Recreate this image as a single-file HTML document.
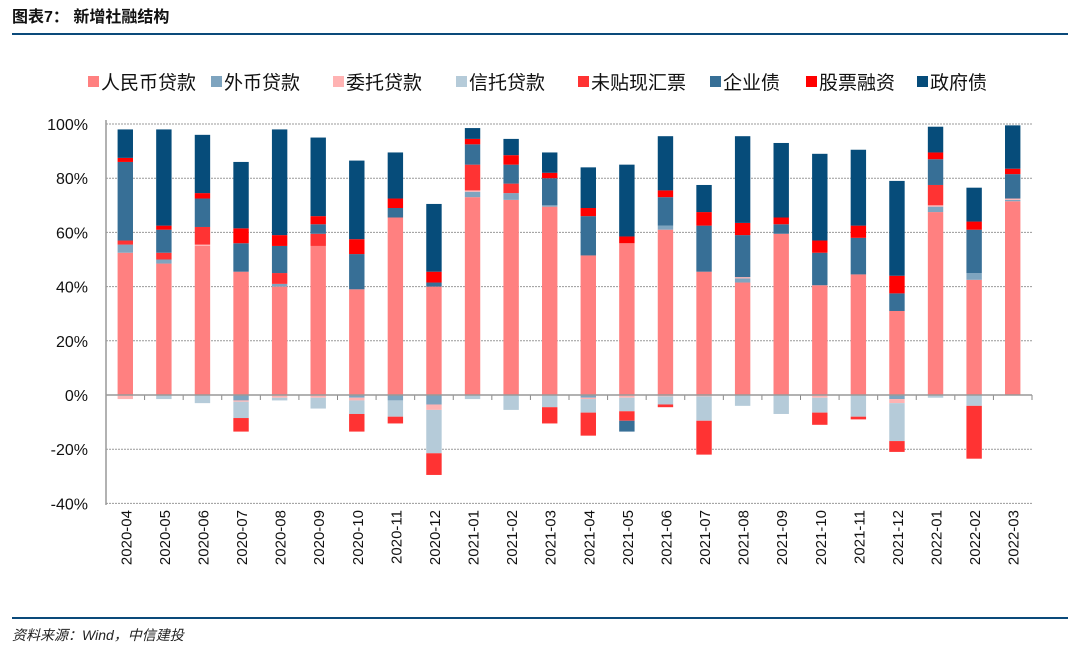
<!DOCTYPE html>
<html><head><meta charset="utf-8"><style>
body{margin:0;background:#fff;width:1080px;height:653px;overflow:hidden;font-family:"Liberation Sans","Noto Sans CJK SC",sans-serif;}
</style></head><body>
<svg id="c" width="1080" height="653" xmlns="http://www.w3.org/2000/svg">
<text x="12" y="22" font-size="16" font-weight="bold" fill="#111" font-family="Liberation Sans,Noto Sans CJK SC,sans-serif">图表7：  新增社融结构</text>
<line x1="12" y1="34" x2="1068" y2="34" stroke="#0a4a7a" stroke-width="2"/>
<line x1="12" y1="618" x2="1068" y2="618" stroke="#0a4a7a" stroke-width="2"/>
<text x="12" y="640" font-size="14" font-style="italic" fill="#222" font-family="Liberation Sans,Noto Sans CJK SC,sans-serif">资料来源：Wind，中信建投</text>
<g id="grid"></g><g id="bars"></g><g id="axes"></g><g id="legend"></g>
</svg>
<script>
const categories=["2020-04","2020-05","2020-06","2020-07","2020-08","2020-09","2020-10","2020-11","2020-12","2021-01","2021-02","2021-03","2021-04","2021-05","2021-06","2021-07","2021-08","2021-09","2021-10","2021-11","2021-12","2022-01","2022-02","2022-03"];
const seriesNames=["人民币贷款","外币贷款","委托贷款","信托贷款","未贴现汇票","企业债","股票融资","政府债"];
const rmbLoans=[52.5,48.5,55,45.5,40,55,39,65.5,40,73,72,69.5,51.5,56,61,45.5,41.5,59.5,40.5,44.5,31,67.5,42.5,71.5];
const fxLoans=[3,1.5,0,-2,1,0,-1,-2,-3.5,2,2.5,0.5,-1,0,1.5,0,1.5,0,0,0,-1.5,2,2.5,0.5];
const entrustedLoans=[-1.5,0,0.5,-0.5,-1,-1,-1,0,-2,0.5,0,0,-0.5,-1,-0.5,-0.5,0.5,0,-1,0,-1.5,0.5,0,0.5];
const trustLoans=[0,-1.5,-3,-6,-1,-4,-5,-6,-16,-1.5,-5.5,-4.5,-5,-5,-3,-9,-4,-7,-5.5,-8,-14,-1,-4,0];
const bills=[1.5,2.5,6.5,-5,4,4.5,-6.5,-2.5,-8,9.5,3.5,-6,-8.5,-3.5,-1,-12.5,0,0,-4.5,-1,-4,7.5,-19.5,0];
const corpBonds=[29,8.5,10.5,10.5,10,3.5,13,3.5,1.5,7.5,7,10,14.5,-4,10.5,17,15.5,3.5,12,13.5,6.5,9.5,16,9];
const equity=[1.5,1.5,2,5.5,4,3,5.5,3.5,4,2,3.5,2,3,2.5,2.5,5,4.5,2.5,4.5,4.5,6.5,2.5,3,2];
const govBonds=[10.5,35.5,21.5,24.5,39,29,29,17,25,4,6,7.5,15,26.5,20,10,32,27.5,32,28,35,9.5,12.5,16];
const yTicks=[100,80,60,40,20,0,-20,-40];
const series=[rmbLoans,fxLoans,entrustedLoans,trustLoans,bills,corpBonds,equity,govBonds];
const colors=["#ff8080","#7ea4bf","#ffb3b3","#b5cbd9","#ff3333","#376f96","#ff0000","#064c7a"];
const NS="http://www.w3.org/2000/svg";
const X0=106,X1=1032,bw=(X1-X0)/categories.length;
const y=v=>395-(v)*2.71;
const x=i=>X0+bw*i+bw/2;
function mk(t,a,p){const e=document.createElementNS(NS,t);for(const k in a)e.setAttribute(k,a[k]);p.appendChild(e);return e;}
const grid=document.getElementById('grid'),bars=document.getElementById('bars'),axes=document.getElementById('axes'),leg=document.getElementById('legend');
yTicks.forEach(t=>{
 if(t!==0){const l=mk('line',{x1:X0,x2:X1,y1:y(t),y2:y(t),stroke:'#999','stroke-dasharray':'2,1'},grid);
 
 }
 const tx=mk('text',{x:88,y:y(t)+6,'text-anchor':'end','font-size':16,fill:'#111'},axes);tx.textContent=t+'%';
 
 
});
categories.forEach((c,i)=>{
 let pos=0,neg=0;
 series.forEach((s,k)=>{const v=s[i];if(!v)return;let a,b;
  if(v>0){a=pos;b=pos+v;pos=b;}else{a=neg;b=neg+v;neg=b;}
  const r=mk('rect',{x:x(i)-7.7,width:15.4,y:y(Math.max(a,b)),height:Math.abs(y(a)-y(b)),fill:colors[k]},bars);
  
  
 });
 const tk=mk('line',{x1:X0+bw*(i+1),x2:X0+bw*(i+1),y1:395,y2:400,stroke:'#888'},axes);
 
 
 const tx=mk('text',{x:0,y:0,transform:`translate(${x(i)+6},510) rotate(-90)`,'text-anchor':'end','font-size':15,fill:'#111'},axes);tx.textContent=c;
 
 
});
const ax=mk('line',{x1:X0,x2:X1,y1:395,y2:395,stroke:'#999','stroke-width':1.5},axes);


const ay=mk('line',{x1:X0,x2:X0,y1:120,y2:505,stroke:'#999','stroke-width':1.5},axes);


const lx=[88,211,333,456,578,710,806,917];
seriesNames.forEach((n,k)=>{
 const g=mk('g',{},leg);
 
 
 mk('rect',{x:lx[k],y:76,width:11,height:11,fill:colors[k]},g);
 const t=mk('text',{x:lx[k]+13,y:89,'font-size':19,fill:'#111'},g);t.textContent=n;
});
</script>
</body></html>
